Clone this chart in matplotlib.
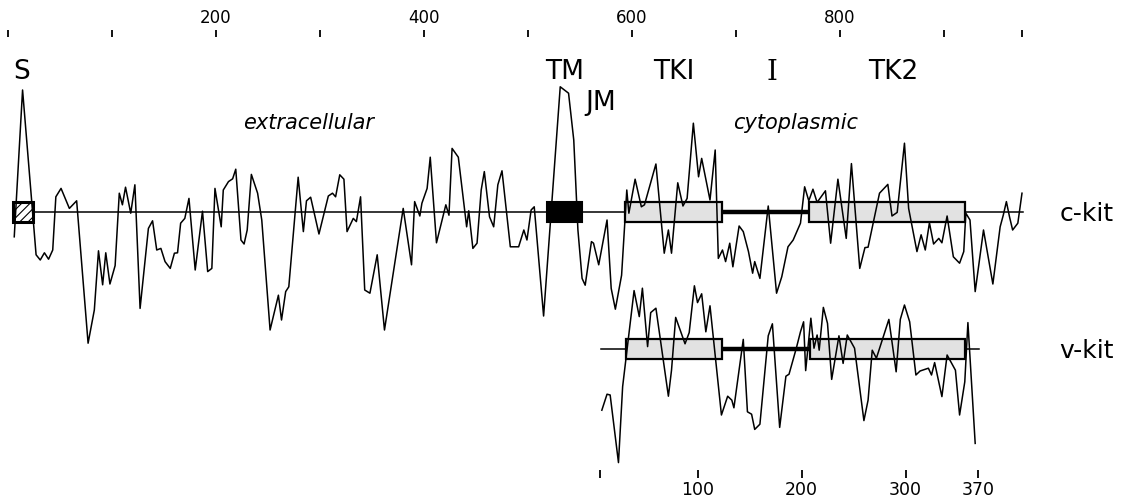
import matplotlib
matplotlib.use('Agg')
from matplotlib import pyplot as plt
from matplotlib.patches import Rectangle

plt.rcParams['font.family'] = ['DejaVu Sans']
plt.rcParams['hatch.color'] = '#777777'
plt.rcParams['hatch.linewidth'] = 0.8

# c-kit hydropathy profile (residue, hydropathy index)
ckit_res = [6, 14, 27, 31, 35, 39, 43, 46, 51, 59,
            66, 77, 83, 87, 91, 94, 98, 103, 107, 110,
            113, 118, 122, 127, 135, 139, 143, 147, 151, 156,
            160, 163, 166, 170, 174, 180, 187, 192, 196, 199,
            205, 207, 212, 216, 219, 224, 227, 230, 234, 240,
            244, 252, 260, 263, 267, 270, 279, 284, 287, 291,
            299, 308, 312, 315, 319, 323, 326, 332, 335, 339,
            343, 348, 355, 362, 380, 388, 391, 396, 398, 403,
            406, 412, 421, 424, 427, 433, 441, 443, 447, 451,
            455, 458, 463, 467, 471, 475, 483, 491, 496, 499,
            503, 506, 515, 531, 539, 544, 548, 552, 555, 561,
            563, 568, 576, 580, 584, 590, 595, 597, 603, 609,
            612, 623, 631, 635, 638, 644, 649, 653, 659, 664,
            667, 675, 680, 683, 687, 690, 694, 697, 703, 707,
            712, 716, 718, 723, 731, 739, 744, 750, 755, 762,
            766, 770, 774, 778, 786, 791, 798, 806, 811, 819,
            824, 827, 838, 846, 850, 855, 862, 866, 874, 878,
            882, 886, 890, 895, 898, 903, 909, 915, 919, 921,
            925, 930, 938, 947, 954, 957, 960, 963, 966, 971, 975]
ckit_hyd = [-0.62, 3.05, -1.07, -1.2, -1.02, -1.18, -0.95, 0.38, 0.59, 0.09,
            0.28, -3.28, -2.45, -0.97, -1.82, -1.02, -1.8, -1.34, 0.47, 0.18,
            0.62, -0.03, 0.68, -2.41, -0.41, -0.22, -0.95, -0.91, -1.24, -1.41,
            -1.03, -1.02, -0.28, -0.16, 0.34, -1.45, 0.02, -1.49, -1.41, 0.59,
            -0.37, 0.55, 0.76, 0.83, 1.07, -0.7, -0.8, -0.45, 0.94, 0.47,
            -0.2, -2.95, -2.08, -2.7, -1.99, -1.87, 0.87, -0.49, 0.28, 0.37,
            -0.55, 0.4, 0.47, 0.38, 0.93, 0.82, -0.49, -0.16, -0.24, 0.38,
            -1.95, -2.03, -1.07, -2.95, 0.09, -1.32, 0.26, -0.1, 0.22, 0.59,
            1.37, -0.77, 0.18, -0.08, 1.59, 1.37, -0.37, 0.03, -0.91, -0.78,
            0.55, 1.01, -0.12, -0.37, 0.68, 1.03, -0.87, -0.87, -0.45, -0.7,
            0.05, 0.13, -2.6, 3.13, 2.97, 1.8, -0.45, -1.66, -1.83, -0.74,
            -0.78, -1.32, -0.2, -1.91, -2.43, -1.58, 0.55, -0.03, 0.82, 0.13,
            0.18, 1.2, -1.03, -0.45, -1.03, 0.73, 0.15, 0.34, 2.22, 0.88,
            1.34, 0.3, 1.55, -1.16, -0.95, -1.24, -0.78, -1.37, -0.35, -0.49,
            -0.99, -1.53, -1.24, -1.66, 0.15, -2.03, -1.62, -0.87, -0.7, -0.28,
            0.63, 0.28, 0.57, 0.24, 0.53, -0.78, 0.82, -0.66, 1.21, -1.41,
            -0.89, -0.88, 0.47, 0.69, -0.1, -0.01, 1.72, 0.09, -0.99, -0.57,
            -0.95, -0.27, -0.8, -0.66, -0.77, -0.1, -1.12, -1.28, -0.99, -0.03,
            -0.2, -1.99, -0.45, -1.8, -0.37, -0.08, 0.26, -0.12, -0.45, -0.28, 0.47]

# v-kit hydropathy profile (v-kit residue numbering)
vkit_res = [8, 13, 16, 24, 28, 39, 44, 47, 52, 55,
            60, 72, 75, 79, 88, 92, 97, 100, 104, 108,
            112, 123, 129, 133, 135, 144, 148, 152, 155, 160,
            168, 172, 179, 185, 188, 195, 199, 202, 204, 209,
            212, 215, 217, 221, 225, 229, 236, 240, 244, 251,
            260, 264, 268, 272, 284, 291, 295, 299, 304, 310,
            314, 322, 325, 328, 335, 340, 348, 352, 357, 360, 367]
vkit_hyd = [-1.53, -1.13, -1.15, -2.84, -0.94, 1.46, 0.81, 1.52, 0.06, 0.91,
            1.02, -1.18, -0.53, 0.79, 0.13, 0.41, 1.58, 1.16, 1.38, 0.43,
            1.08, -1.65, -1.18, -1.28, -1.47, 0.24, -1.57, -1.63, -2.01, -1.88,
            0.33, 0.63, -1.96, -0.68, -0.63, 0.02, 0.43, 0.68, -0.54, 0.77,
            0.02, 0.35, -0.03, 1.04, 0.64, -0.76, 0.33, -0.36, 0.35, 0.02,
            -1.79, -1.28, -0.03, -0.23, 0.74, -0.57, 0.74, 1.1, 0.68, -0.65,
            -0.55, -0.48, -0.65, -0.34, -1.19, -0.15, -0.53, -1.65, -0.82, 0.66, -2.36]

# domains (start, end residue)
ckit_span = (5, 976)
ckit_signal = (5, 24)
ckit_tm = (518, 552)
ckit_tk1 = (593, 687)
ckit_tk2 = (770, 920)
vkit_span = (7, 371)
vkit_tk1 = (31, 124)
vkit_tk2 = (208, 357)

top_ticks = [0, 100, 200, 300, 400, 500, 600, 700, 800, 900, 975]
top_labels = ['', '', '200', '', '400', '', '600', '', '800', '', '']
bottom_ticks = [6, 100, 200, 300, 370]
bottom_labels = ['', '100', '200', '300', '370']

# layout
vkit_shift = 563      # v-kit residue n drawn under c-kit residue n + shift
vkit_base = -3.425    # vertical position of v-kit baseline
half = 0.25           # half height of domain boxes
box_fill = '#e2e2e2'


def domain_box(ax, span, base, **kw):
    ax.add_patch(Rectangle((span[0], base - half), span[1] - span[0], 2 * half,
                           zorder=2, **kw))


fig = plt.figure(figsize=(11.29, 5.04), dpi=100)
ax = fig.add_axes([0, 26 / 504, 1, 448 / 504])
ax.set_xlim(-7.7, 1077.9)
ax.set_ylim(-6.65, 4.55)
for s in ax.spines.values():
    s.set_visible(False)
ax.set_yticks([])

# c-kit
ax.plot(ckit_span, [0, 0], color='black', lw=1.1, zorder=1)
ax.plot([ckit_tk1[1], ckit_tk2[0]], [0, 0], color='black', lw=3.2, zorder=1,
        solid_capstyle='butt')
domain_box(ax, ckit_signal, 0, facecolor='white', edgecolor='black', lw=2.2,
           hatch='////')
domain_box(ax, ckit_tm, 0, facecolor='black', edgecolor='black', lw=1.5)
domain_box(ax, ckit_tk1, 0, facecolor=box_fill, edgecolor='black', lw=1.6)
domain_box(ax, ckit_tk2, 0, facecolor=box_fill, edgecolor='black', lw=1.6)
ax.plot(ckit_res, ckit_hyd, color='black', lw=1.1, zorder=3)

# v-kit
vx = [r + vkit_shift for r in vkit_res]
vy = [h + vkit_base for h in vkit_hyd]
ax.plot([vkit_span[0] + vkit_shift, vkit_span[1] + vkit_shift],
        [vkit_base, vkit_base], color='black', lw=1.1, zorder=1)
ax.plot([vkit_tk1[1] + vkit_shift, vkit_tk2[0] + vkit_shift],
        [vkit_base, vkit_base], color='black', lw=3.2, zorder=1,
        solid_capstyle='butt')
for dom in (vkit_tk1, vkit_tk2):
    domain_box(ax, (dom[0] + vkit_shift, dom[1] + vkit_shift), vkit_base,
               facecolor=box_fill, edgecolor='black', lw=1.6)
ax.plot(vx, vy, color='black', lw=1.1, zorder=3)

# top axis: c-kit numbering
ax.xaxis.set_ticks_position('top')
ax.xaxis.set_label_position('top')
ax.set_xticks(top_ticks)
ax.set_xticklabels(top_labels, fontsize=12)
ax.tick_params(axis='x', direction='in', length=5, width=1.3, pad=2.5)

# bottom axis: v-kit numbering
sec = ax.secondary_xaxis('bottom', functions=(lambda c: c - vkit_shift,
                                              lambda v: v + vkit_shift))
sec.set_xticks(bottom_ticks)
sec.set_xticklabels(bottom_labels, fontsize=12.5)
sec.tick_params(axis='x', direction='in', length=6, width=1.3, pad=2.5)
sec.spines['bottom'].set_visible(False)

# domain labels
for x, y, t in [(13.5, 3.5, 'S'), (535, 3.5, 'TM'), (570, 2.73, 'JM'),
                (640, 3.5, 'TKI'), (851, 3.5, 'TK2')]:
    ax.text(x, y, t, ha='center', va='center', fontsize=19)
ax.text(735, 3.5, 'I', ha='center', va='center', fontsize=20,
        family='DejaVu Serif')
ax.text(289, 2.22, 'extracellular', ha='center', va='center', fontsize=15,
        style='italic')
ax.text(757, 2.22, 'cytoplasmic', ha='center', va='center', fontsize=15,
        style='italic')
ax.text(1011, -0.05, 'c-kit', ha='left', va='center', fontsize=18)
ax.text(1011, vkit_base - 0.05, 'v-kit', ha='left', va='center', fontsize=18)

fig.savefig('out.png', dpi=100)
